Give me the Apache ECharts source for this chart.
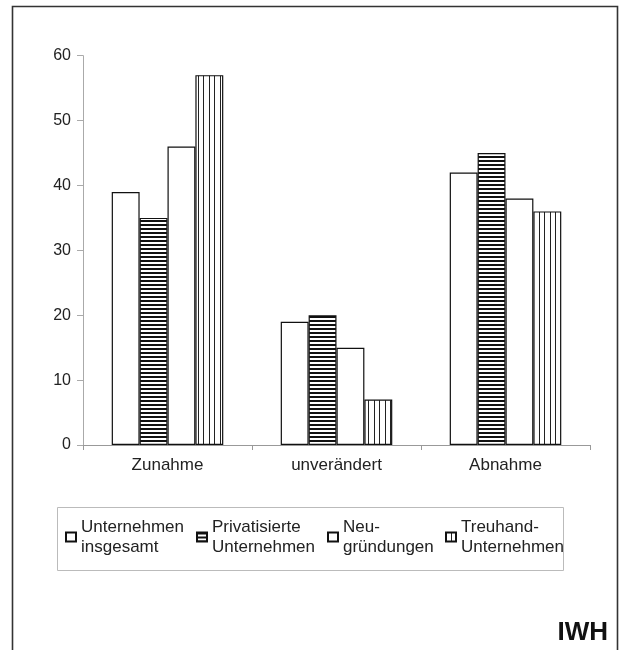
<!DOCTYPE html>
<html>
<head>
<meta charset="utf-8">
<script src="https://cdn.jsdelivr.net/npm/echarts@6/dist/echarts.min.js"></script>
<style>html,body{margin:0;padding:0;background:#fff;}#c{width:623px;height:650px;}</style>
</head>
<body>
<div id="c"></div>
<script>
const categories = ['Zunahme', 'unverändert', 'Abnahme'];
const seriesNames = ['Unternehmen\ninsgesamt', 'Privatisierte\nUnternehmen', 'Neu-\ngründungen', 'Treuhand-\nUnternehmen'];
const insgesamt = [39, 19, 42];
const privatisiert = [35, 20, 45];
const neugruendungen = [46, 15, 38];
const treuhand = [57, 7, 36];
const yTicks = [0, 10, 20, 30, 40, 50, 60];

function hPattern() {
  const c = document.createElement('canvas');
  c.width = 4; c.height = 4;
  const ctx = c.getContext('2d');
  ctx.fillStyle = '#fff'; ctx.fillRect(0, 0, 4, 4);
  ctx.fillStyle = '#111'; ctx.fillRect(0, 0, 4, 2);
  return c;
}
function vPattern() {
  const c = document.createElement('canvas');
  c.width = 11; c.height = 2;
  const ctx = c.getContext('2d');
  ctx.fillStyle = '#fff'; ctx.fillRect(0, 0, 11, 2);
  ctx.fillStyle = '#222'; ctx.fillRect(0, 0, 1, 2); ctx.fillRect(5, 0, 1, 2);
  return c;
}

const font = "'Liberation Sans', Arial, sans-serif";
const fills = ['#ffffff', {image: hPattern(), repeat: 'repeat'}, '#ffffff', {image: vPattern(), repeat: 'repeat'}];
const values = [insgesamt, privatisiert, neugruendungen, treuhand];
const legendLefts = [65, 196, 327, 445];

const chart = echarts.init(document.getElementById('c'), null, {renderer: 'canvas'});
chart.setOption({
  backgroundColor: '#fff',
  animation: false,
  grid: {left: 83, right: 33, top: 55.7, bottom: 205, containLabel: false},
  xAxis: {
    type: 'category',
    data: categories,
    axisLine: {lineStyle: {color: '#999', width: 1}},
    axisTick: {show: true, length: 5, lineStyle: {color: '#999'}},
    axisLabel: {color: '#222', fontSize: 17, fontFamily: font, margin: 12}
  },
  yAxis: {
    type: 'value',
    min: yTicks[0], max: yTicks[yTicks.length - 1], interval: 10,
    axisLine: {show: true, lineStyle: {color: '#aaa', width: 1}},
    axisTick: {show: true, length: 6, lineStyle: {color: '#aaa'}},
    splitLine: {show: false},
    axisLabel: {color: '#222', fontSize: 16, fontFamily: font, margin: 12}
  },
  legend: seriesNames.map((n, i) => ({
    data: [n],
    left: legendLefts[i],
    top: 507,
    padding: 0,
    itemWidth: 10,
    itemHeight: 9,
    icon: 'rect',
    selectedMode: false,
    textStyle: {color: '#222', fontSize: 17, fontFamily: font, lineHeight: 20, padding: [20, 0, 0, 0]}
  })),
  series: seriesNames.map((n, i) => ({
    name: n,
    type: 'bar',
    data: values[i],
    barGap: '0%',
    barCategoryGap: '34%',
    itemStyle: {color: fills[i], borderColor: '#111', borderWidth: 1.2}
  })),
  graphic: [
    {type: 'rect', shape: {x: 12.5, y: 6.5, width: 605, height: 660}, style: {fill: 'none', stroke: '#333', lineWidth: 1.6}, silent: true},
    {type: 'rect', shape: {x: 57.5, y: 507.5, width: 506, height: 63}, style: {fill: 'none', stroke: '#bbb', lineWidth: 1}, silent: true},
    {type: 'text', right: 623 - 608, top: 620, style: {text: 'IWH', font: "bold 26px 'Liberation Sans', Arial, sans-serif", fill: '#111'}, silent: true}
  ]
});
</script>
</body>
</html>
